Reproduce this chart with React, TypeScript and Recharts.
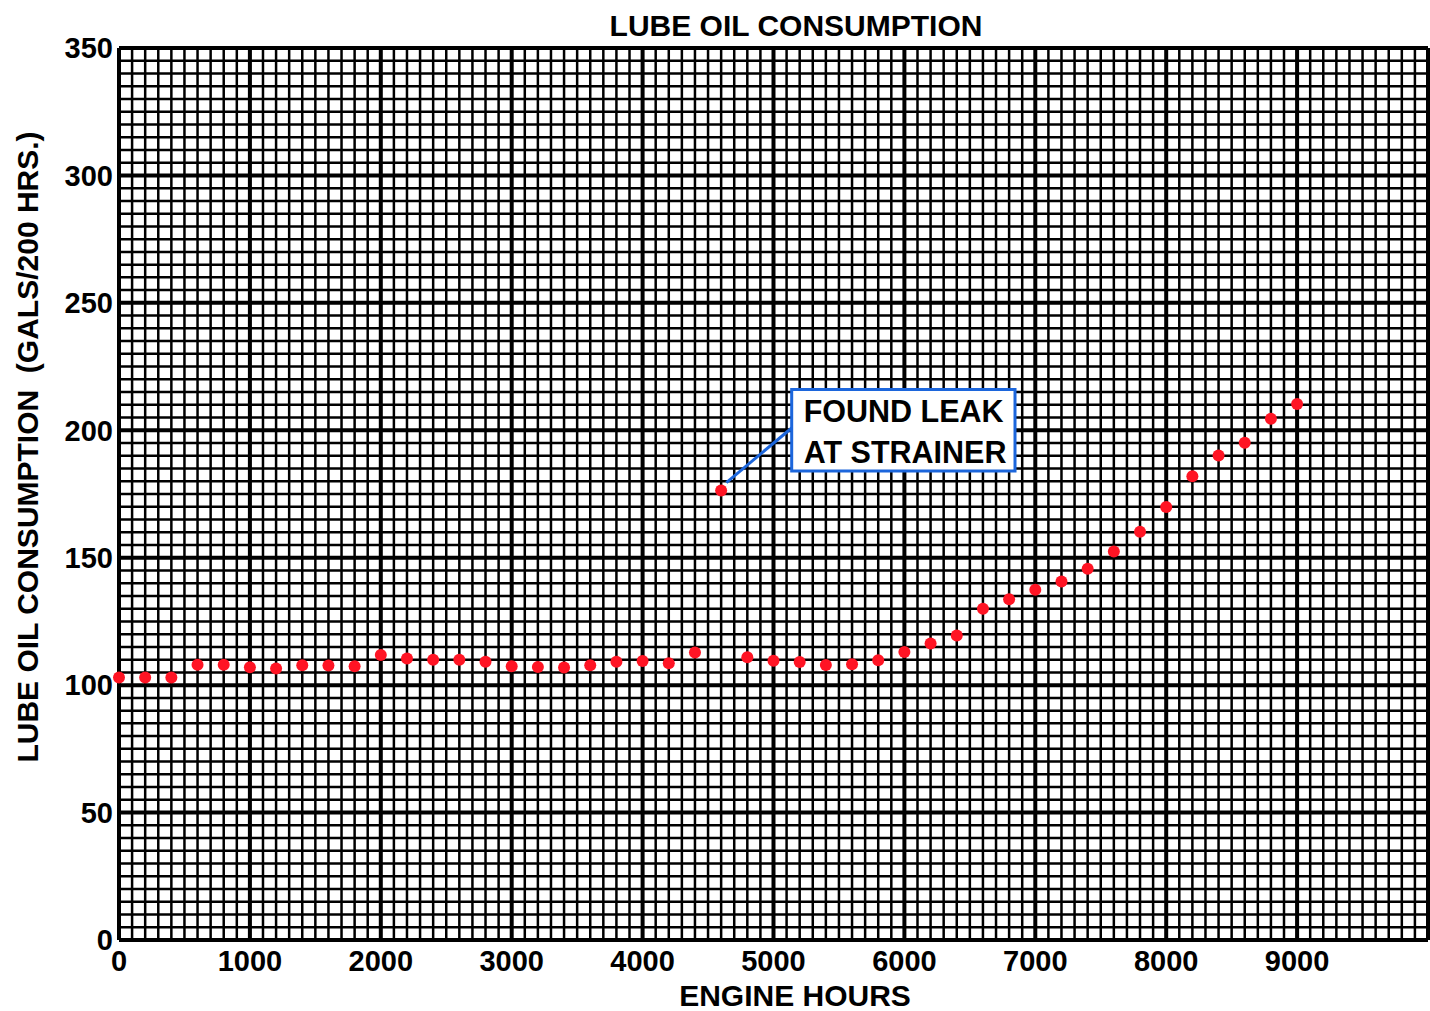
import {
  CartesianGrid,
  ReferenceArea,
  ReferenceLine,
  Scatter,
  ScatterChart,
  XAxis,
  YAxis,
} from "recharts";

// Engine hours at each 200 hr reading
const engineHours = [
  0, 200, 400, 600, 800, 1000, 1200, 1400, 1600, 1800, 2000, 2200, 2400, 2600,
  2800, 3000, 3200, 3400, 3600, 3800, 4000, 4200, 4400, 4600, 4800, 5000, 5200,
  5400, 5600, 5800, 6000, 6200, 6400, 6600, 6800, 7000, 7200, 7400, 7600, 7800,
  8000, 8200, 8400, 8600, 8800, 9000,
];

// Gallons of lube oil used per 200 hrs
const gallonsPer200 = [
  103, 103, 103, 108, 108, 107, 106.5, 107.8, 107.7, 107.4, 111.8, 110.5, 110,
  110, 109.2, 107.4, 107.1, 106.9, 107.8, 109.2, 109.5, 108.6, 112.8, 176.4,
  110.9, 109.6, 109.1, 107.9, 108.2, 109.8, 113, 116.3, 119.5, 130, 133.7,
  137.4, 140.7, 145.7, 152.4, 160.2, 169.9, 182, 190.1, 195.1, 204.5, 210.3,
];

// heavy ruling (labelled up to 9000 hrs)
const hourTicks = [0, 1000, 2000, 3000, 4000, 5000, 6000, 7000, 8000, 9000, 10000];
const gallonTicks = [0, 50, 100, 150, 200, 250, 300, 350];

// fine ruling: 100 hr by 5 gal
const minorHourTicks = Array.from({ length: 101 }, (_, i) => i * 100);
const minorGallonTicks = Array.from({ length: 71 }, (_, i) => i * 5);

const calloutLines = ["FOUND LEAK", "AT STRAINER"];

const readings = engineHours.map((hours, i) => ({ hours, gals: gallonsPer200[i] }));

const FONT = '"Liberation Sans", Arial, Helvetica, sans-serif';
const INK = "#000";
const RED = "#ff1424";
const BLUE = "#1c66dc";

const tickStyle = { fontSize: 29, fontWeight: 700, fill: INK, fontFamily: FONT };

function Dot(props: any) {
  return <circle cx={props.cx} cy={props.cy} r={6} fill={RED} />;
}

function CalloutText(props: any) {
  const { x, y } = props.viewBox;
  return (
    <g fontFamily={FONT} fontSize={30.5} fontWeight={700} fill={INK}>
      {calloutLines.map((line, i) => (
        <text key={line} x={x + 12} y={y + 32 + i * 41} fill={INK}>
          {line}
        </text>
      ))}
    </g>
  );
}

const titleStyle = {
  position: "absolute" as const,
  fontFamily: FONT,
  fontWeight: 700,
  fontSize: 30,
  lineHeight: 1,
  whiteSpace: "pre" as const,
  color: INK,
};

export default function App() {
  return (
    <div style={{ position: "absolute", left: 0, top: 0, width: 1430, height: 1011, background: "#fff" }}>
      <ScatterChart
        width={1430}
        height={1011}
        margin={{ top: 48, right: 2, bottom: 0, left: 0 }}
      >
        <XAxis
          type="number"
          dataKey="hours"
          domain={[0, 10000]}
          ticks={minorHourTicks}
          interval={0}
          height={71}
          axisLine={false}
          tickLine={false}
          tickSize={0}
          tickMargin={10}
          tick={tickStyle}
          tickFormatter={(v) => (v % 1000 === 0 && v < 10000 ? String(v) : "")}
        />
        <YAxis
          type="number"
          dataKey="gals"
          domain={[0, 350]}
          ticks={minorGallonTicks}
          interval={0}
          width={119}
          axisLine={false}
          tickLine={false}
          tickSize={0}
          tickMargin={6}
          tick={tickStyle}
          tickFormatter={(v) => (v % 50 === 0 ? String(v) : "")}
        />
        <CartesianGrid stroke={INK} strokeWidth={2.5} />
        {hourTicks.map((h) => (
          <ReferenceLine key={`h${h}`} x={h} stroke={INK} strokeWidth={4} />
        ))}
        {gallonTicks.map((g) => (
          <ReferenceLine key={`g${g}`} y={g} stroke={INK} strokeWidth={4} />
        ))}
        <ReferenceLine
          segment={[
            { x: 4640, y: 179.5 },
            { x: 5139, y: 200.9 },
          ]}
          stroke={BLUE}
          strokeWidth={3}
        />
        <ReferenceArea
          x1={5139}
          x2={6845}
          y1={184}
          y2={216}
          fill="#fff"
          fillOpacity={1}
          stroke={BLUE}
          strokeWidth={3}
          zIndex={450}
          label={<CalloutText />}
        />
        <Scatter
          data={readings}
          shape={<Dot />}
          isAnimationActive={false}
        />
      </ScatterChart>
      <div style={{ ...titleStyle, left: 796, top: 26, transform: "translate(-50%, -50%)" }}>
        LUBE OIL CONSUMPTION
      </div>
      <div style={{ ...titleStyle, left: 795, top: 996, transform: "translate(-50%, -50%)" }}>
        ENGINE HOURS
      </div>
      <div
        style={{
          ...titleStyle,
          left: 28,
          top: 447,
          transform: "translate(-50%, -50%) rotate(-90deg)",
        }}
      >
        {"LUBE OIL CONSUMPTION  (GALS/200 HRS.)"}
      </div>
    </div>
  );
}
